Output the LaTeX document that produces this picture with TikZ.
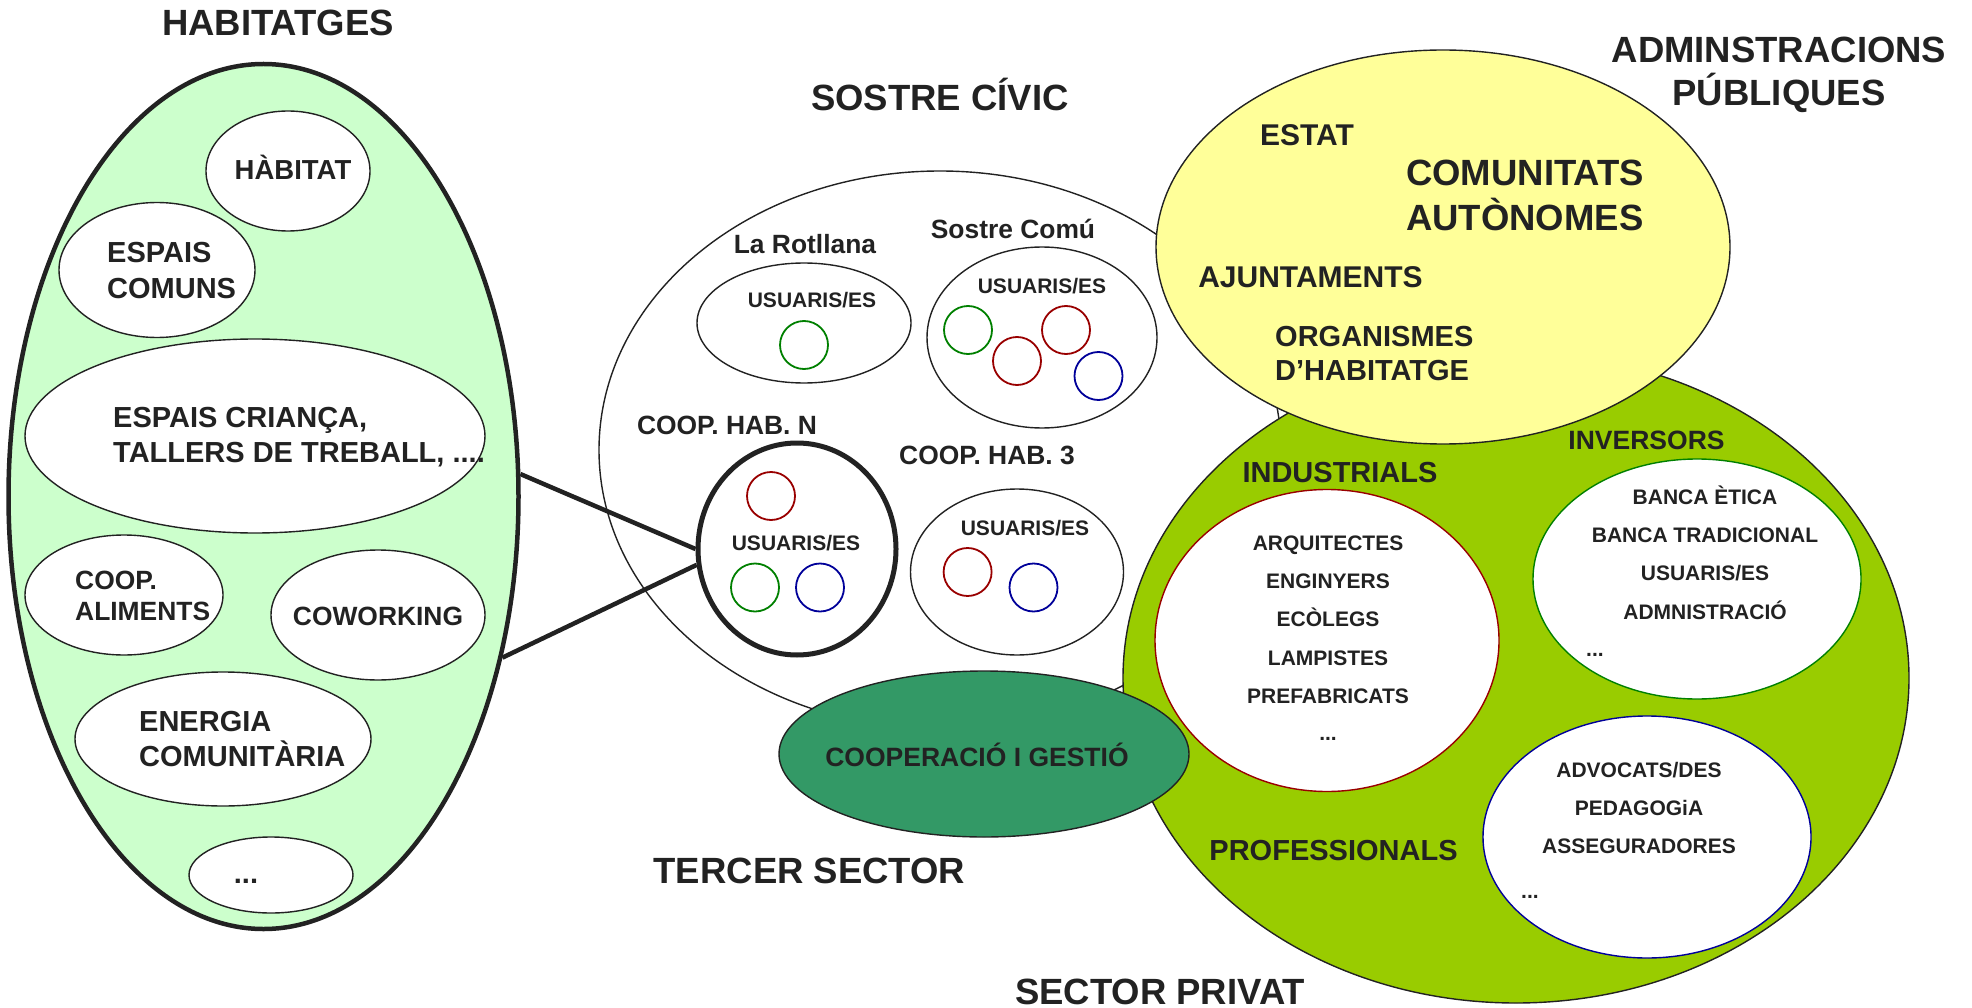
\documentclass[tikz,border=0pt]{standalone}
\usepackage{fontspec}
\setmainfont{Liberation Sans}
\usetikzlibrary{shapes.geometric}
\definecolor{ink}{HTML}{222222}
\definecolor{habgreen}{HTML}{CCFFCC}
\definecolor{adminyellow}{HTML}{FFFF99}
\definecolor{privatgreen}{HTML}{99CC00}
\definecolor{gestiogreen}{HTML}{339966}
\definecolor{usrred}{HTML}{990000}
\definecolor{usrgreen}{HTML}{008000}
\definecolor{usrblue}{HTML}{000099}

\begin{document}
\begin{tikzpicture}[x=1pt, y=-1pt,
  blob/.style={ellipse, draw=ink, line width=1.4pt, fill=white, inner sep=0pt},
  usr/.style={circle, line width=1.8pt, inner sep=0pt, minimum size=48pt},
  txt/.style={inner sep=0pt, text=ink},
  ttlf/.style={txt, font=\bfseries\fontsize{36.5}{43}\selectfont},
  ttl/.style={ttlf, text height=26.3pt, text depth=0pt},
  bigf/.style={txt, font=\bfseries\fontsize{29}{35.5}\selectfont},
  big/.style={bigf, text height=20.9pt, text depth=0pt},
  midf/.style={txt, font=\bfseries\fontsize{26.4}{31}\selectfont},
  mid/.style={midf, text height=19pt, text depth=0pt},
  lstf/.style={txt, font=\bfseries\fontsize{21}{25}\selectfont},
  lst/.style={lstf, text height=15.1pt, text depth=0pt}]
  \def\lsp{38.2}

  % Fixed bounding box
  \path[use as bounding box] (0,0) rectangle (1972,1008);

  % Habitatges
  \node[blob, fill=habgreen, line width=4.5pt, minimum width=510pt, minimum height=865pt] (hab) at (263.5,496.5) {};
  \node[blob, minimum width=164pt, minimum height=120pt] (habitat) at (288,171) {};
  \node[txt, font=\bfseries\fontsize{27.5}{33}\selectfont, text height=19.8pt, text depth=0pt] (t-habitat) at (293,170) {HÀBITAT};
  \node[blob, minimum width=196pt, minimum height=135pt] (comuns) at (157,270) {};
  \node[bigf, anchor=west, align=left] (t-comuns) at (107,270.5) {ESPAIS\\COMUNS};
  \node[blob, minimum width=460pt, minimum height=194pt] (crianca) at (255,436) {};
  \node[bigf, anchor=west, align=left] (t-crianca) at (113,437) {ESPAIS CRIANÇA,\\TALLERS DE TREBALL, ....};
  \node[blob, minimum width=198pt, minimum height=120pt] (aliments) at (124,595) {};
  \node[midf, anchor=west, align=left] (t-aliments) at (75,596) {COOP.\\ALIMENTS};
  \node[blob, minimum width=214pt, minimum height=130pt] (cowork) at (378,615) {};
  \node[mid] (t-cowork) at (378,616) {COWORKING};
  \node[blob, minimum width=296pt, minimum height=134pt] (energia) at (223,739) {};
  \node[bigf, anchor=west, align=left] (t-energia) at (139,739) {ENERGIA\\COMUNITÀRIA};
  \node[blob, minimum width=164pt, minimum height=76pt] (altres) at (271,875) {};
  \node[bigf] (t-altres) at (246,881) {...};

  % Sostre civic
  \node[blob, minimum width=682pt, minimum height=558pt] (sostre) at (940,450) {};
  \node[mid] (t-rotllana) at (805,244) {La Rotllana};
  \node[blob, minimum width=214pt, minimum height=120pt] (rotllana) at (804,323) {};
  \node[lst] (u-rotllana) at (812,300) {USUARIS/ES};
  \node[mid] (t-comu) at (1013,229) {Sostre Comú};
  \node[blob, minimum width=230pt, minimum height=181pt] (comu) at (1042,337.5) {};
  \node[lst] (u-comu) at (1042,286) {USUARIS/ES};
  \node[mid] (t-coopn) at (727,425) {COOP. HAB. N};
  \node[blob, line width=5pt, minimum width=198pt, minimum height=212pt] (coopN) at (797,549) {};
  \node[lst] (u-coopn) at (796,543) {USUARIS/ES};
  \node[mid] (t-coop3) at (987,455) {COOP. HAB. 3};
  \node[blob, minimum width=213pt, minimum height=166pt] (coop3) at (1017,572) {};
  \node[lst] (u-coop3) at (1025,528) {USUARIS/ES};

  % Usuaris circles
  \foreach \cx/\cy/\cc [count=\i] in {804/345/usrgreen, 968/330/usrgreen, 1017/361/usrred,
      1066/330/usrred, 1098.5/376/usrblue, 771/496/usrred, 755/587.5/usrgreen,
      820/587.5/usrblue, 967.6/572/usrred, 1033.5/587.5/usrblue}
    \node[usr, draw=\cc] (c\i) at (\cx,\cy) {};

  % Sector privat
  \node[blob, fill=privatgreen, minimum width=786pt, minimum height=650pt] (privat) at (1516,678) {};
  \node[blob, draw=usrred, minimum width=344pt, minimum height=302pt] (indus) at (1327,640.5) {};
  \node[blob, draw=usrgreen, minimum width=328pt, minimum height=240pt] (invers) at (1697,579) {};
  \node[blob, draw=usrblue, minimum width=328pt, minimum height=242pt] (profes) at (1647,837) {};
  \node[big] (t-indus) at (1340,472) {INDUSTRIALS};
  \node[txt, font=\bfseries\fontsize{26.5}{31}\selectfont, text height=19.1pt, text depth=0pt] (t-invers) at (1646.5,440) {INVERSORS};
  \node[big] (t-profes) at (1333.5,850) {PROFESSIONALS};
  \foreach \t [count=\i] in {ARQUITECTES, ENGINYERS, ECÒLEGS, LAMPISTES, PREFABRICATS}
    \node[lst] (l-indus\i) at (1328,{543+\lsp*(\i-1)}) {\t};
  \node[lstf] (l-indus6) at (1328,739) {...};
  \foreach \t [count=\i] in {BANCA ÈTICA, BANCA TRADICIONAL, {USUARIS/ES}, ADMNISTRACIÓ}
    \node[lst] (l-invers\i) at (1705,{497+\lsp*(\i-1)}) {\t};
  \node[lstf, anchor=west] (l-invers5) at (1586,655) {...};
  \foreach \t [count=\i] in {{ADVOCATS/DES}, PEDAGOGiA, ASSEGURADORES}
    \node[lst] (l-profes\i) at (1639,{770+\lsp*(\i-1)}) {\t};
  \node[lstf, anchor=west] (l-profes4) at (1521,897) {...};

  % Administracions publiques
  \node[blob, fill=adminyellow, minimum width=574pt, minimum height=394pt] (admin) at (1443,247) {};
  \node[txt, font=\bfseries\fontsize{30}{36}\selectfont, text height=21.6pt, text depth=0pt] (t-estat) at (1307,135) {ESTAT};
  \node[ttlf, anchor=west, align=left, font=\bfseries\fontsize{36.5}{45}\selectfont] (t-ccaa) at (1406,195.5) {COMUNITATS\\AUTÒNOMES};
  \node[txt, font=\bfseries\fontsize{30}{36}\selectfont, text height=21.6pt, text depth=0pt] (t-ajunt) at (1310.5,277) {AJUNTAMENTS};
  \node[txt, anchor=west, align=left, font=\bfseries\fontsize{29}{34}\selectfont] (t-organ) at (1275,354) {ORGANISMES\\D’HABITATGE};

  % Tercer sector
  \node[blob, fill=gestiogreen, minimum width=410pt, minimum height=166pt] (gestio) at (984,754) {};
  \node[txt, font=\bfseries\fontsize{26.5}{31}\selectfont, text height=19.1pt, text depth=0pt] (t-gestio) at (977,757) {COOPERACIÓ I GESTIÓ};

  % Links habitatges - cooperativa
  \draw[line width=4.5pt, ink] (hab.5) -- (coopN.180);
  \draw[line width=4.5pt, ink] (hab.-34) -- (coopN.189);

  % Titles
  \node[ttl] (t-hab) at (278,22) {HABITATGES};
  \node[ttl] (t-sostre) at (940,97) {SOSTRE CÍVIC};
  \node[ttlf, align=center] (t-admin) at (1779,75) {ADMINSTRACIONS\\PÚBLIQUES};
  \node[ttl] (t-tercer) at (809.5,870) {TERCER SECTOR};
  \node[ttl] (t-privat) at (1160,991) {SECTOR PRIVAT};
\end{tikzpicture}
\end{document}
